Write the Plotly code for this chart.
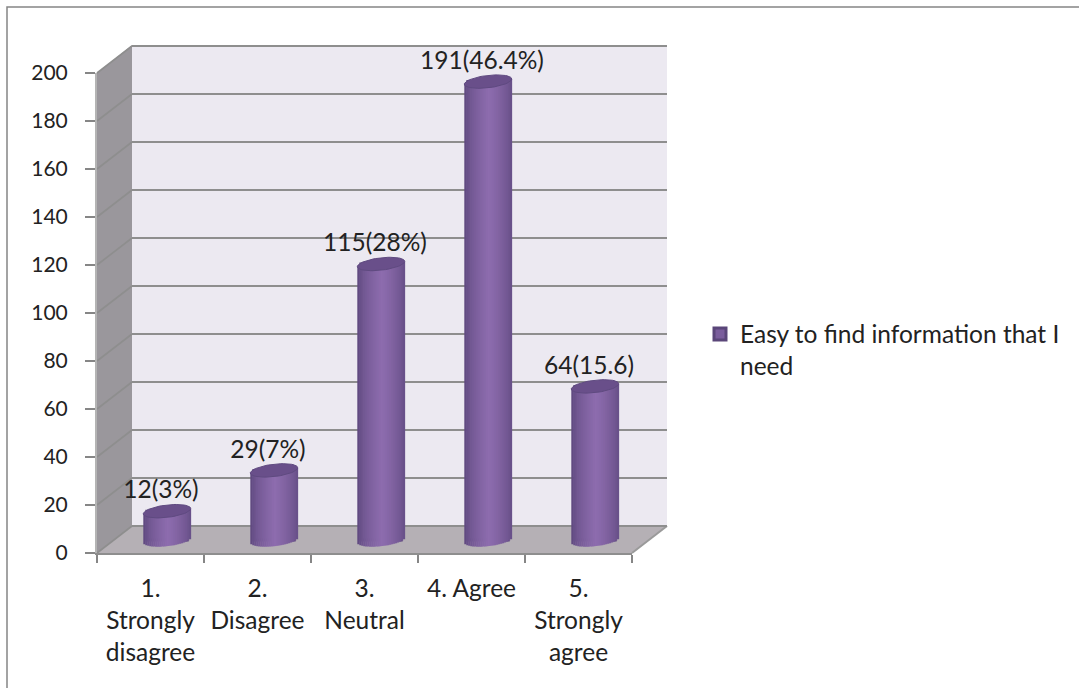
import numpy as np
import plotly.graph_objects as go

categories = ["1.<br>Strongly<br>disagree", "2.<br>Disagree", "3.<br>Neutral", "4. Agree", "5.<br>Strongly<br>agree"]
values = [12, 29, 115, 191, 64]
labels = ["12(3%)", "29(7%)", "115(28%)", "191(46.4%)", "64(15.6)"]
y_ticks = [0, 20, 40, 60, 80, 100, 120, 140, 160, 180, 200]
series_name = "Easy to find information that I<br>need"

W, H = 1079, 688
FONT = "Lato"
FS = 24.5
FS_NUM = 21
L, R, B, T = 97, 632, 553, 73   # front plane in pixels
DX, DY = 35, 27                 # depth shift of the back wall
MX, MY = 16.5, 13               # bar plane shift
GRID = "#8e8e8e"

def px(x): return x / W
def py(y): return 1 - y / H

idx = list(range(len(values)))
unit_y = (B - T) / 200
unit_x = (R - L) / 5
half_w = 23.7 / unit_x
ell_b = 6.2 / unit_y
tilt = 2.6 / unit_y

shapes = [
    dict(type="rect", xref="paper", yref="paper", x0=px(7), x1=px(1100), y0=py(7), y1=py(720),
         line=dict(color="#858585", width=1.5), fillcolor="white", layer="below"),
    dict(type="rect", xref="paper", yref="paper", x0=px(L + DX), x1=px(R + DX), y0=py(B - DY), y1=py(T - DY - 1),
         line=dict(width=0), fillcolor="#ece9f1", layer="below"),
    dict(type="path", xref="paper", yref="paper",
         path=f"M{px(L)},{py(T)} L{px(L+DX)},{py(T-DY-1)} L{px(L+DX)},{py(B-DY)} L{px(L)},{py(B)} Z",
         line=dict(width=0), fillcolor="#9a979c", layer="below"),
    dict(type="path", xref="paper", yref="paper",
         path=f"M{px(L)},{py(B)} L{px(R)},{py(B)} L{px(R+DX)},{py(B-DY)} L{px(L+DX)},{py(B-DY)} Z",
         line=dict(width=0), fillcolor="#b5b0b5", layer="below"),
    dict(type="line", xref="paper", yref="paper", x0=px(R), x1=px(R + DX), y0=py(B), y1=py(B - DY),
         line=dict(color="#9a9a9a", width=2), layer="below"),
]
for t in y_ticks:
    yp = B - t * unit_y
    shapes.append(dict(type="line", xref="paper", yref="paper", x0=px(L), x1=px(L + DX),
                       y0=py(yp), y1=py(yp - DY), line=dict(color=GRID, width=1.6), layer="below"))

def strip_color(u):
    # u from -1 (left edge) to 1 (right edge) of a cylinder
    dark, light = np.array([88, 68, 120]), np.array([142, 109, 175])
    s = np.clip(1 - abs(u - 0.05) / 1.05, 0, 1) ** 0.55
    c = dark + (light - dark) * s
    return f"rgb({int(c[0])},{int(c[1])},{int(c[2])})"

fig = go.Figure()

# front plane axes
fig.add_trace(go.Scatter(x=categories, y=[None] * 5, xaxis="x", yaxis="y", showlegend=False, hoverinfo="skip"))
# back wall grid axes
fig.add_trace(go.Scatter(x=idx, y=[None] * 5, xaxis="x2", yaxis="y2", showlegend=False, hoverinfo="skip"))

# base trace: carries the legend entry, hidden inside the cylinder
fig.add_trace(go.Bar(x=idx, y=values, width=half_w * 1.7, name=series_name, xaxis="x3", yaxis="y3",
                     marker=dict(color="#7a5d9c", line=dict(color="#5a4679", width=3)),
                     showlegend=True, hoverinfo="skip"))

# cylinder body drawn as narrow vertical strips, each ending on the lower arc
n = 24
edges = np.linspace(-half_w, half_w, n + 1)
for k in range(n):
    mid = (edges[k] + edges[k + 1]) / 2
    u = mid / half_w
    arc = -ell_b * np.sqrt(max(0, 1 - u * u)) + tilt * u
    base = [arc] * len(values)
    tops = [v + tilt * u - a for v, a in zip(values, base)]
    fig.add_trace(go.Bar(x=idx, y=tops, base=base, width=edges[k + 1] - edges[k] + 0.004,
                         offset=edges[k], xaxis="x3", yaxis="y3",
                         marker=dict(color=strip_color(u), line=dict(width=0)),
                         showlegend=False, hoverinfo="skip"))

# tilted top ellipse of each cylinder
t_par = np.linspace(0, 2 * np.pi, 60)
for i, v in zip(idx, values):
    fig.add_trace(go.Scatter(x=i + half_w * np.cos(t_par),
                             y=v + ell_b * np.sin(t_par) + tilt * np.cos(t_par),
                             mode="lines", fill="toself", fillcolor="#694f8a",
                             line=dict(color="#5f4a80", width=1), xaxis="x3", yaxis="y3",
                             showlegend=False, hoverinfo="skip"))

# data labels
fig.add_trace(go.Scatter(x=[i - 6 / unit_x for i in idx], y=[v + 2.75 for v in values], text=labels, mode="text",
                         textposition="top center", xaxis="x3", yaxis="y3",
                         textfont=dict(family=FONT, size=FS, color="#222"),
                         showlegend=False, hoverinfo="skip", cliponaxis=False))

pad_y = 20
grid_pad = 1  # lets the grid draw its lines at 0 and 200 too
fig.update_layout(
    width=W, height=H, margin=dict(l=0, r=0, t=0, b=0),
    paper_bgcolor="white", plot_bgcolor="rgba(0,0,0,0)",
    barmode="overlay", shapes=shapes,
    font=dict(family=FONT, size=FS, color="#222"),
    xaxis=dict(domain=[px(L), px(R)], type="category", categoryorder="array", categoryarray=categories,
               tickmode="array", tickvals=categories, ticktext=categories, tickson="boundaries",
               range=[-0.5, 4.5], ticks="outside", ticklen=8, tickwidth=2, tickcolor="#868686",
               showline=True, linecolor="#8e8e8e", linewidth=2, showgrid=False, anchor="y",
               tickangle=0, tickfont=dict(family=FONT, size=FS, color="#222"), automargin=False,
               ticklabelstandoff=13),
    yaxis=dict(domain=[py(B), py(T)], range=[0, 200], tickmode="array", tickvals=y_ticks,
               ticks="outside", ticklen=10, tickwidth=2, tickcolor="#868686",
               showline=True, linecolor="#b4b4b4", linewidth=2, showgrid=False, zeroline=False, anchor="x",
               tickfont=dict(family=FONT, size=FS_NUM, color="#222"), automargin=False,
               ticklabelstandoff=13),
    xaxis2=dict(domain=[px(L + DX), px(R + DX)], range=[-0.5, 4.5], visible=False, anchor="y2"),
    yaxis2=dict(domain=[py(B - DY + grid_pad * unit_y), py(T - DY - grid_pad * unit_y)],
                range=[-grid_pad, 200 + grid_pad], tickmode="array", tickvals=y_ticks,
                showgrid=True, gridcolor=GRID, gridwidth=2, zeroline=False, showline=False,
                showticklabels=False, ticks="", anchor="x2"),
    xaxis3=dict(domain=[px(L + MX), px(R + MX)], range=[-0.5, 4.5], visible=False, anchor="y3"),
    yaxis3=dict(domain=[py(B - MY + pad_y * unit_y), py(T - MY - pad_y * unit_y / 2)], range=[-pad_y, 200 + pad_y / 2],
                visible=False, anchor="x3"),
    legend=dict(x=px(700), y=py(350), xanchor="left", yanchor="middle", bgcolor="rgba(0,0,0,0)", valign="top",
                font=dict(family=FONT, size=FS, color="#222"), itemwidth=30, tracegroupgap=0),
)
fig.write_html("out.html", config=dict(displayModeBar=False), post_script="document.body.style.margin='0';")
